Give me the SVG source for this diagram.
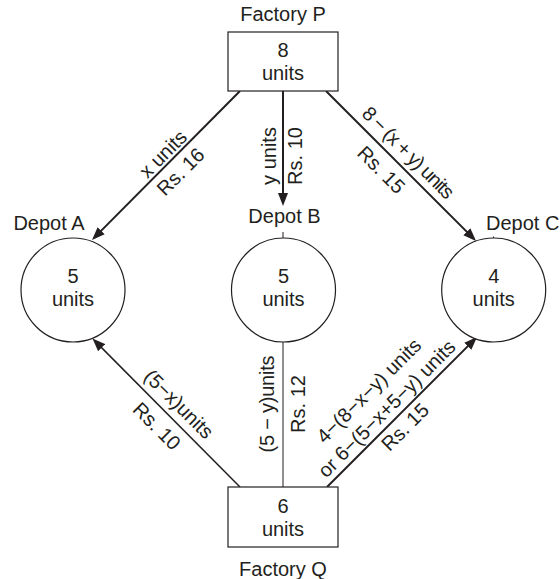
<svg xmlns="http://www.w3.org/2000/svg" width="560" height="579" viewBox="0 0 560 579">
<style>
text{font-family:"Liberation Sans",Arial,sans-serif;font-size:20px;fill:#231f20}
.c{text-anchor:middle}
.box{fill:#fff;stroke:#231f20;stroke-width:1.2}
.dep{fill:#fff;stroke:#231f20;stroke-width:1.2}
.e{fill:none;stroke:#231f20}
.t2{stroke-width:2}
.t15{stroke-width:1.5}
.t1{stroke-width:1}
</style>
<defs>
<marker id="ah" markerUnits="userSpaceOnUse" markerWidth="13" markerHeight="10" refX="10" refY="5" orient="auto">
<path d="M0,0 L13,5 L0,10 z" fill="#231f20"/>
</marker>
</defs>
<g id="connectors">
<path class="e t2" d="M240,91 L94.1,237.9" marker-end="url(#ah)"/>
<path class="e t2" d="M283,91 L283,203" marker-end="url(#ah)"/>
<path class="e t2" d="M326,91 L473.9,238.9" marker-end="url(#ah)"/>
<path class="e t15" d="M240,487 L94.6,340.6" marker-end="url(#ah)"/>
<path class="e t1" d="M283,487 L283,342"/>
<path class="e t2" d="M327,487 L474.9,339.1" marker-end="url(#ah)"/>
<path class="e t1" d="M283,232 L283,238"/>
<path class="e t1" d="M493.5,236.5 L493.5,239"/>
<g transform="translate(170,161) rotate(-45)">
<text class="c" y="-3">x units</text>
<text class="c" y="22">Rs. 16</text>
</g>
<g transform="translate(283,156) rotate(-90)">
<text class="c" y="-7.5">y units</text>
<text class="c" y="19">Rs. 10</text>
</g>
<g transform="translate(398,163) rotate(45)">
<text class="c" y="-7.8" textLength="121" lengthAdjust="spacing">8 − (x + y) units</text>
</g>
<g transform="translate(393,158) rotate(45)">
<text class="c" y="23.5">Rs. 15</text>
</g>
<g transform="translate(168,415) rotate(45)">
<text class="c" y="-8.6">(5−x)units</text>
<text class="c" y="22.7">Rs. 10</text>
</g>
<g transform="translate(283,404) rotate(-90)">
<text class="c" y="-9" textLength="97" lengthAdjust="spacing">(5 − y)units</text>
<text class="c" y="21.5">Rs. 12</text>
</g>
<g transform="translate(396,418) rotate(-45)">
<text class="c" y="-31.6">4−(8−x−y) units</text>
<text class="c" y="-6.3">or 6−(5−x+5−y) units</text>
<text class="c" y="19.7">Rs. 15</text>
</g>
</g>
<g id="factoryP">
<rect class="box" x="228" y="32" width="110" height="59"/>
<text class="c" x="283" y="21">Factory P</text>
<text class="c" x="283" y="57">8</text>
<text class="c" x="283" y="80">units</text>
</g>
<g id="factoryQ">
<rect class="box" x="228" y="487" width="110" height="60"/>
<text class="c" x="283" y="513">6</text>
<text class="c" x="283" y="536">units</text>
<text class="c" x="283" y="576">Factory Q</text>
</g>
<g id="depotA">
<circle class="dep" cx="73" cy="290" r="52"/>
<text class="c" x="49" y="230">Depot A</text>
<text class="c" x="73" y="283">5</text>
<text class="c" x="73" y="306">units</text>
</g>
<g id="depotB">
<circle class="dep" cx="283.5" cy="290" r="52"/>
<text class="c" x="284.5" y="223">Depot B</text>
<text class="c" x="283.5" y="283">5</text>
<text class="c" x="283.5" y="306">units</text>
</g>
<g id="depotC">
<circle class="dep" cx="493.7" cy="290" r="52"/>
<text x="486" y="230">Depot C</text>
<text class="c" x="493.7" y="283">4</text>
<text class="c" x="493.7" y="306">units</text>
</g>
</svg>
